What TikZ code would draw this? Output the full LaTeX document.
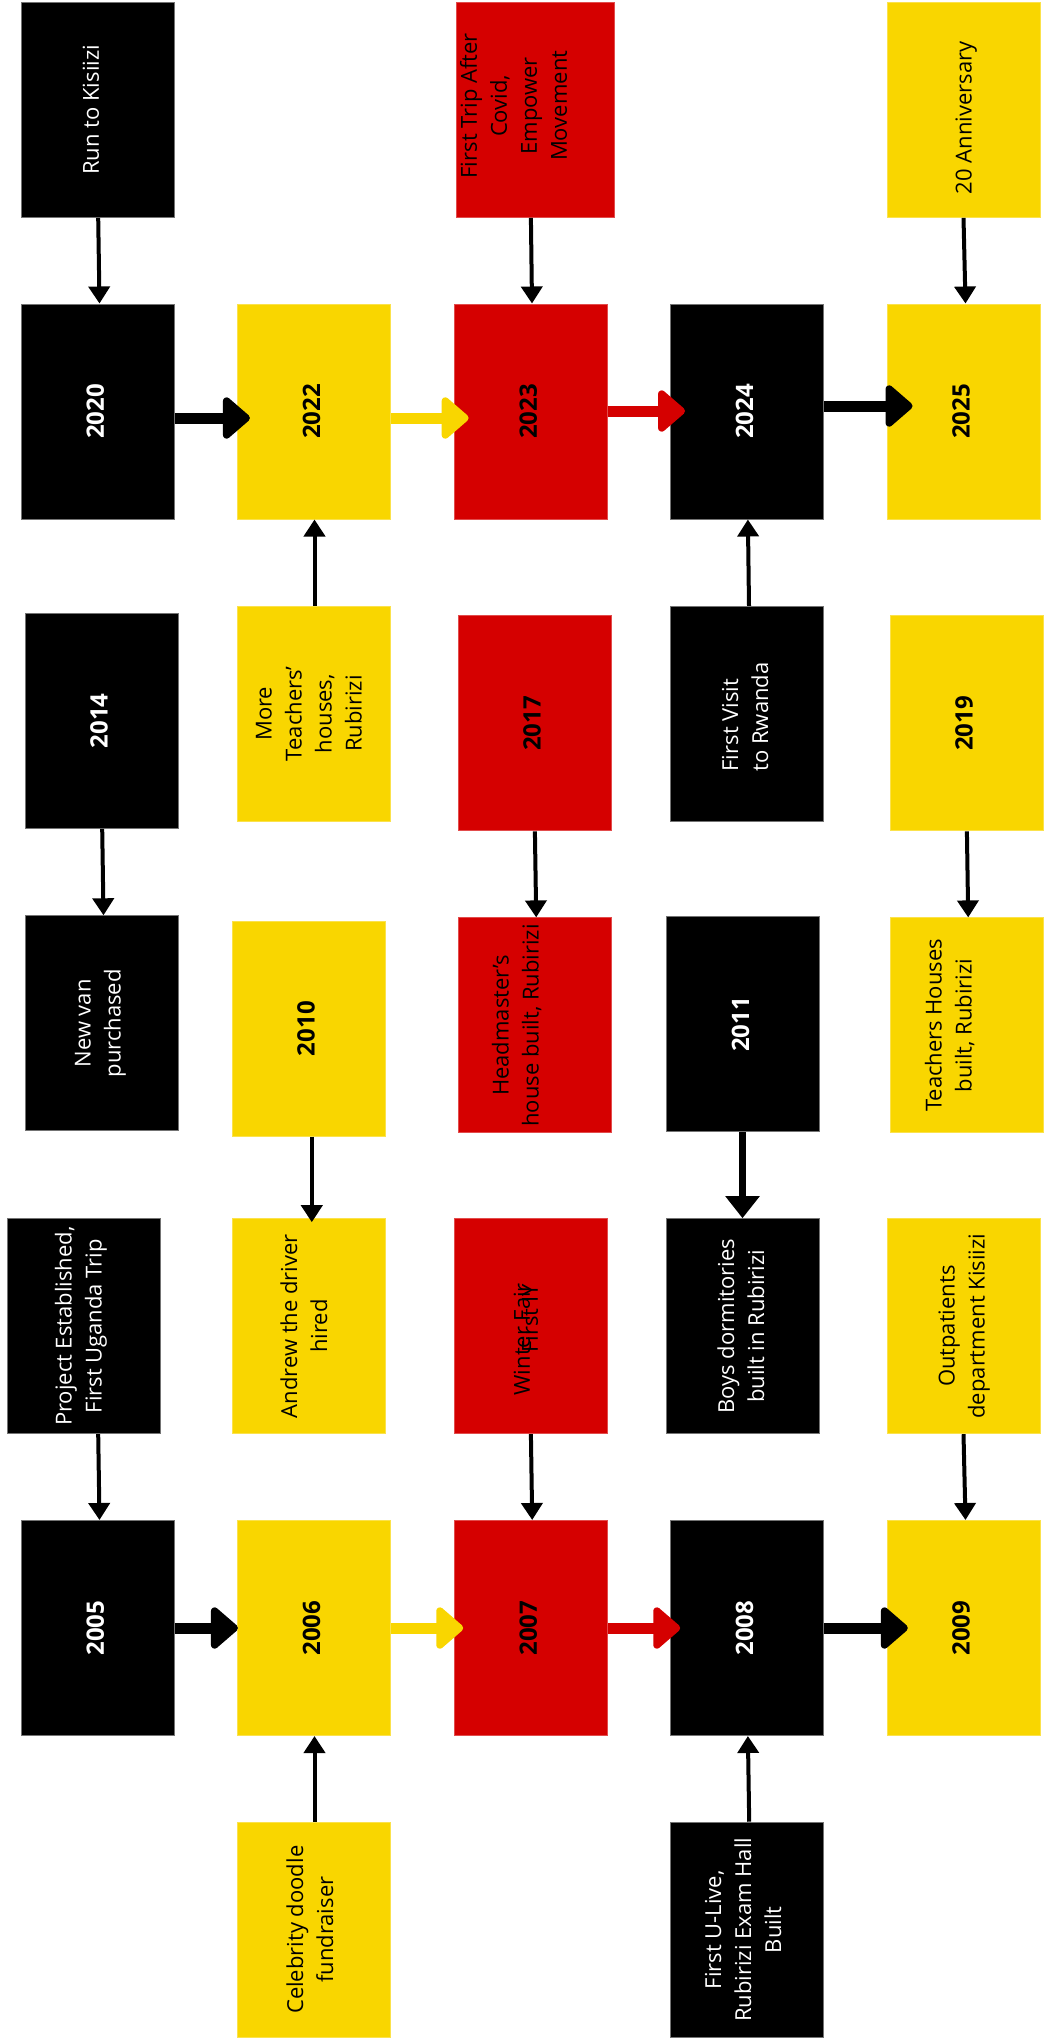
\documentclass[tikz,border=0pt]{standalone}
\usepackage{fontspec}
\setmainfont{Open Sans}
\usepackage{graphicx}
\usetikzlibrary{arrows.meta,calc}
\definecolor{Y}{HTML}{F9D600}
\definecolor{R}{HTML}{D50000}
% #1 alignment, #2 shift to page-left, #3/#4 padding (page-down / page-up sides reversed), #5 text
\newcommand{\vt}[5]{\rotatebox{90}{\raisebox{#2}[\height][\depth]{\begin{tabular}{@{\hspace*{#3}}#1@{\hspace*{#4}}}#5\end{tabular}}}}
\tikzset{
  box/.style={rectangle, inner sep=0pt, minimum width=153pt, minimum height=215pt,
              font=\fontsize{22}{30}\selectfont, line width=1pt},
  bbox/.style={box, fill=black, draw=black!55, text=white},
  ybox/.style={box, fill=Y, draw=Y!70!white, text=black},
  rbox/.style={box, fill=R, draw=R!70!white, text=black},
  yr/.style={font=\fontsize{24}{30}\selectfont\bfseries},
  thinarrow/.style={line width=4pt, -{Triangle[length=17pt,width=21pt]}},
  midarrow/.style={line width=7pt, -{Triangle[length=22pt,width=33pt]}},
  bigarrow/.style={line width=11pt, -{Triangle[length=29pt,width=48pt,round]}},
}
\begin{document}
\begin{tikzpicture}[x=1pt,y=-1pt]
\fill[white] (0,0) rectangle (1047,2040);
\useasboundingbox (0,0) rectangle (1047,2040);

% column 1
\node[bbox] (run) at (97.9,109.8) {\vt{c}{5pt}{0pt}{0pt}{Run to Kisiizi}};
\node[bbox,yr] (y2020) at (97.9,411.5) {\vt{c}{0pt}{0pt}{0pt}{2020}};
\node[bbox,yr] (y2014) at (101.5,720.8) {\vt{c}{0pt}{0pt}{0pt}{2014}};
\node[bbox] (van) at (101.5,1023.3) {\vt{c}{2pt}{0pt}{0pt}{New van\\purchased}};
\node[bbox] (proj) at (83.5,1326.2) {\vt{c}{3pt}{0pt}{0pt}{Project Established,\\First Uganda Trip}};
\node[bbox,yr] (y2005) at (97.9,1628) {\vt{c}{0pt}{0pt}{0pt}{2005}};

% column 2
\node[ybox,yr] (y2022) at (314.2,411.5) {\vt{c}{0pt}{0pt}{0pt}{2022}};
\node[ybox] (more) at (314.2,713.7) {\vt{c}{3.5pt}{0pt}{0pt}{More\\Teachers’\\houses,\\Rubirizi}};
\node[ybox,yr] (y2010) at (308.5,1028.7) {\vt{c}{0pt}{0pt}{0pt}{2010}};
\node[ybox] (andrew) at (308.5,1326.2) {\vt{c}{2.5pt}{0pt}{0pt}{Andrew the driver\\hired}};
\node[ybox,yr] (y2006) at (314.2,1628) {\vt{c}{0pt}{0pt}{0pt}{2006}};
\node[ybox] (celeb) at (314.2,1929.7) {\vt{c}{2pt}{0pt}{0pt}{Celebrity doodle\\fundraiser}};

% column 3
\node[rbox,minimum width=158pt] (trip) at (535.9,109.8) {\vt{c}{20pt}{8pt}{0pt}{First Trip After\\Covid,\\Empower\\Movement}};
\node[rbox,yr] (y2023) at (530.9,411.5) {\vt{c}{0pt}{0pt}{0pt}{2023}};
\node[rbox,yr] (y2017) at (534.5,723.3) {\vt{c}{0pt}{0pt}{0pt}{2017}};
\node[rbox] (head) at (534.5,1025.4) {\vt{c}{17pt}{0pt}{0pt}{Headmaster’s\\house built, Rubirizi}};
\node[rbox] (winter) at (530.9,1326.2) {\vt{c}{7pt}{0pt}{26pt}{Winter Fair}};
\node[rotate=90, inner sep=0pt, font=\fontsize{22}{30}\selectfont, text=black] (wfirst) at (530,1318.5) {First IY};
\node[rbox,yr] (y2007) at (530.9,1628) {\vt{c}{0pt}{0pt}{0pt}{2007}};

% column 4
\node[bbox,yr] (y2024) at (747.2,411.5) {\vt{c}{0pt}{0pt}{0pt}{2024}};
\node[bbox] (visit) at (747.2,713.9) {\vt{l}{0pt}{0pt}{6pt}{First Visit\\to Rwanda}};
\node[bbox,yr] (y2011) at (743.2,1024.3) {\vt{c}{0pt}{0pt}{0pt}{2011}};
\node[bbox] (boys) at (743.2,1326.2) {\vt{c}{0pt}{0pt}{0pt}{Boys dormitories\\built in Rubirizi}};
\node[bbox,yr] (y2008) at (747.2,1628) {\vt{c}{0pt}{0pt}{0pt}{2008}};
\node[bbox] (ulive) at (747.2,1929.7) {\vt{c}{2pt}{0pt}{0pt}{First U-Live,\\Rubirizi Exam Hall\\Built}};

% column 5
\node[ybox] (anniv) at (963.5,109.8) {\vt{c}{-2pt}{0pt}{16pt}{20 Anniversary}};
\node[ybox,yr] (y2025) at (963.5,411.5) {\vt{c}{0pt}{0pt}{0pt}{2025}};
\node[ybox,yr] (y2019) at (966.5,723.3) {\vt{c}{0pt}{0pt}{0pt}{2019}};
\node[ybox] (thouses) at (966.5,1025.4) {\vt{c}{16pt}{0pt}{0pt}{Teachers Houses\\built, Rubirizi}};
\node[ybox] (outp) at (963.5,1326.2) {\vt{c}{0pt}{0pt}{0pt}{Outpatients\\department Kisiizi}};
\node[ybox,yr] (y2009) at (963.5,1628) {\vt{c}{0pt}{0pt}{0pt}{2009}};

% timeline arrows, top row
\draw[bigarrow] ($(y2020.east)+(0,6.5)$) -- ($(y2022.west)+(12.7,6.5)$);
\draw[bigarrow,Y] ($(y2022.east)+(0,6.5)$) -- ($(y2023.west)+(14.7,6.5)$);
\draw[bigarrow,R] ($(y2023.east)+(0,-0.5)$) -- ($(y2024.west)+(14.8,-0.5)$);
\draw[bigarrow] ($(y2024.east)+(0,-5.5)$) -- ($(y2025.west)+(26,-5.5)$);
% timeline arrows, bottom row
\draw[bigarrow] (y2005.east) -- ($(y2006.west)+(0.7,0)$);
\draw[bigarrow,Y] (y2006.east) -- ($(y2007.west)+(9.3,0)$);
\draw[bigarrow,R] (y2007.east) -- ($(y2008.west)+(10,0)$);
\draw[bigarrow] (y2008.east) -- ($(y2009.west)+(21.3,0)$);

% event arrows
\draw[thinarrow] ($(run.south)+(0.3,0)$) -- ($(y2020.north)+(1.6,0)$);
\draw[thinarrow] ($(trip.south)+(-5,0)$) -- ($(y2023.north)+(1.1,0)$);
\draw[thinarrow] (anniv.south) -- ($(y2025.north)+(2,0)$);
\draw[thinarrow] ($(more.north)+(0.3,0)$) -- ($(y2022.south)+(0.3,0)$);
\draw[thinarrow] ($(visit.north)+(1.8,0)$) -- ($(y2024.south)+(0.7,0)$);
\draw[thinarrow] ($(y2014.south)+(0.7,0)$) -- ($(van.north)+(2,0)$);
\draw[thinarrow] ($(y2017.south)+(0.4,0)$) -- ($(head.north)+(1.7,0)$);
\draw[thinarrow] ($(y2019.south)+(0.4,0)$) -- ($(thouses.north)+(1.7,0)$);
\draw[thinarrow] ($(y2010.south)+(3.3,0)$) -- ($(andrew.north)+(3.3,4)$);
\draw[midarrow] ($(y2011.south)+(-0.7,0)$) -- ($(boys.north)+(-0.7,0)$);
\draw[thinarrow] ($(proj.south)+(14.7,0)$) -- ($(y2005.north)+(1.6,0)$);
\draw[thinarrow] (winter.south) -- ($(y2007.north)+(1.3,0)$);
\draw[thinarrow] (outp.south) -- ($(y2009.north)+(2,0)$);
\draw[thinarrow] ($(celeb.north)+(0.3,0)$) -- ($(y2006.south)+(0.3,0)$);
\draw[thinarrow] ($(ulive.north)+(2,0)$) -- ($(y2008.south)+(0.7,0)$);
\end{tikzpicture}
\end{document}
